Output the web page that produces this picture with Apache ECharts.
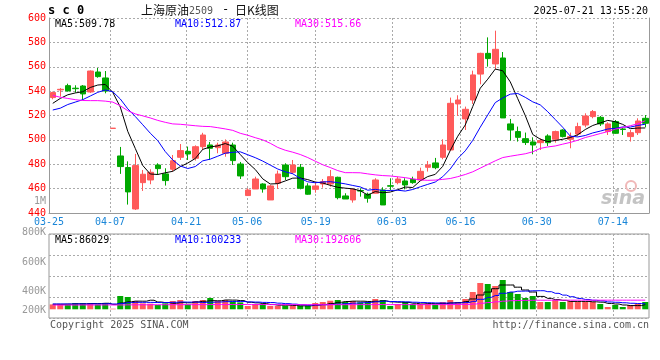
<!DOCTYPE html>
<html><head><meta charset="utf-8">
<script src="https://cdn.jsdelivr.net/npm/echarts@6/dist/echarts.min.js"></script>
<style>html,body{margin:0;padding:0;background:#fff}#c{width:660px;height:360px}</style>
</head><body><div id="c"></div>
<script>
const dates=["03-25","03-26","03-27","03-28","03-31","04-01","04-02","04-03","04-07","04-08","04-09","04-10","04-11","04-14","04-15","04-16","04-17","04-18","04-21","04-22","04-23","04-24","04-25","04-28","04-29","04-30","05-06","05-07","05-08","05-09","05-12","05-13","05-14","05-15","05-16","05-19","05-20","05-21","05-22","05-23","05-26","05-27","05-28","05-29","05-30","06-03","06-04","06-05","06-06","06-09","06-10","06-11","06-12","06-13","06-16","06-17","06-18","06-19","06-20","06-23","06-24","06-25","06-26","06-27","06-30","07-01","07-02","07-03","07-04","07-07","07-08","07-09","07-10","07-11","07-14","07-15","07-16","07-17","07-18","07-21"];
const opens=[534.7,541,544.5,542.4,544.2,539.3,555.7,550.8,509.4,486.8,477.3,443.3,464.9,467.1,479.4,472.1,475.9,485.7,490.6,484.9,494.4,495.8,493.6,489,495.8,480.2,454.3,459.7,463.8,450.7,464.4,479.4,473.4,477.5,462.2,459.4,463.8,463.8,469.3,454,450.7,458.5,455.4,456.2,458.9,462.4,464.9,466.3,467.6,467.1,477.5,481.1,485.7,491.7,529.5,517.2,532.7,554,571,562.3,567.2,513.1,506.8,501,498.3,497.7,503.2,500.5,508.1,500.5,504.8,512.2,519.1,518.5,506.8,515,509,502.7,505.9,517.7];
const closes=[538.8,541.5,540.2,542,537.7,556.5,551.9,540.1,509.6,478.1,457.3,478.9,471.8,473.4,476.4,466.6,482.9,491.2,488.4,494.4,504,493.1,495.8,498.3,483,470.4,458.9,467.9,459.7,462.2,472,469.8,479.4,460.3,455.4,462.2,465.7,469.8,452.6,451.5,459.4,458,452.1,467.1,446.6,462,467.9,463,464.9,474.2,479.4,477.2,495.8,530,532.7,525.1,553.3,571,566.7,574.3,518,508.1,502.1,497.8,495.8,499.4,497.7,506.8,502.7,502.7,510.9,519.6,523.2,513.1,513.1,505.4,508.5,505.9,515.5,513.6];
const lows=[533.3,535.5,539.6,538.8,532.8,538.5,551,538.2,509.4,472.1,446.9,442.5,458.1,463.6,471.2,462.5,474,483.5,483.5,483,491.7,483.5,489,486.2,479.4,467.9,454.3,459.7,456.7,450.7,459.7,467.1,472,459.4,455,456.7,460.8,461.6,451.2,451.5,448.5,453.4,448.5,456,446.6,458.9,463.5,459.4,464,466.3,474,475.9,484.1,491.1,519.6,508.1,529.5,545.6,560.1,557.9,518,499.4,498.6,495.8,488.2,491.7,495,497.7,502,493.1,503,510.3,517.7,511.4,504,505,504,498.6,504,510.3];
const highs=[539.6,542.5,546.1,544.8,545,557,559,556.5,509.6,494.2,482.4,488.5,475.3,475.9,480.8,476.7,487.6,496.6,494.5,495.5,505.8,498.3,497.7,500.4,497.7,481.9,460.3,469.8,464.4,463,474.8,480.8,483.5,480.2,464.4,465.7,467.9,475.3,469.8,456.2,460.3,460.3,456.7,468.5,461.1,468.5,469.8,468.5,469.8,477.2,482.7,485.2,500.5,534.7,536.6,527.3,556.8,571.5,584.1,589.6,572.1,517.2,510.9,506,502.1,501.3,504.6,507.6,508.7,506,514.1,521.8,524.5,519.6,514.4,516.3,510.3,508.1,517.7,520.4];
const ma5=[530,534,537,538.5,539.5,543,545,545.5,539,527,507,493,479,472,471.6,473,474.2,478,481,484.7,492.2,494.2,495.1,497,494.8,488,481.3,475.7,468,463.8,464.1,466.3,468.6,468.7,467.4,465.4,464.6,462.7,461.1,460.4,459.8,458.3,454.7,457.6,456.6,457.2,459.1,461.3,460.9,466.4,469.9,471.7,478.3,491.3,503,512.2,527.4,542.4,549.8,558.1,556.7,547.6,533.8,520,504.4,500.6,498.6,499.5,500.5,501.9,504.2,508.5,511.8,513.9,516,514.9,512.7,509.2,509.7,509.78];
const ma10=[524.5,526,529,531,533,536,539,541,539.5,533.6,525.5,519.2,512.4,505.5,499.4,490.4,483.5,478.6,476.5,478.1,482.8,484.2,486.6,489.1,489.8,490.2,487.8,485.4,482.6,479.3,476.1,473.8,472.2,468.4,465.6,464.8,465.5,465.7,464.9,463.9,462.6,461.4,458.7,459.4,458.5,458.5,458.7,458,459.3,461.5,463.5,465.4,469.8,476.1,484.7,491,499.6,510.4,520.5,530.6,534.4,537.5,538.1,534.9,531.2,528.7,523.1,516.7,510.3,503.1,502.4,503.6,505.7,507.2,508.9,509.5,510.6,510.5,511.8,512.87];
const ma30=[536.5,535,534,533,532.3,532.2,532.2,531.8,531,528,524,521.3,519.7,518,516,514.4,513.1,512.8,512.2,511.6,511.1,510.9,510,509,507.8,505.4,503.8,501.8,500,497.2,493.8,491.5,489.9,488,485.5,482.5,479.6,477.3,474.8,473.1,473.1,473,472.1,471.3,470.7,470.4,469.7,469,468,467.2,466.8,467,467.6,468.3,469.8,471.6,473.8,476.8,479.8,482.8,485.5,486.6,487.6,488.6,490.2,493,494.2,495,496.5,497.9,499.7,501.9,503.5,505.2,506.8,508.8,510.2,511.6,513.2,515.66];
const volumes=[90000,90000,90000,116000,116000,116000,90000,116000,11000,245000,226000,153000,109000,103000,79000,109000,153000,171000,90000,153000,171000,208000,153000,171000,140000,127000,61000,98000,98000,61000,61000,66000,66000,66000,66000,116000,134000,158000,171000,134000,153000,127000,134000,190000,171000,61000,98000,134000,98000,98000,98000,85000,134000,171000,134000,190000,318000,484000,466000,429000,539000,318000,282000,208000,245000,134000,134000,171000,134000,153000,134000,134000,134000,98000,42000,79000,42000,79000,98000,134000];
const volMa5=[92000,92000,95000,100000,100000,106000,106000,111000,90000,116000,138000,150000,149000,167000,134000,123000,111000,123000,120000,135000,148000,159000,157000,171000,169000,160000,130000,119000,105000,89000,76000,77000,70000,64000,65000,76000,90000,108000,129000,143000,150000,149000,144000,148000,155000,137000,131000,128000,112000,98000,105000,103000,103000,117000,124000,143000,190000,263000,317000,379000,447000,447000,407000,355000,318000,237000,201000,178000,164000,145000,145000,145000,138000,131000,108000,97000,79000,68000,68000,86029];
const volMa10=[98000,98000,98000,99000,99000,100000,100000,102000,97000,108000,122000,128000,128000,127000,124000,124000,128000,134000,132000,132000,125000,130000,134000,141000,144000,145000,136000,133000,127000,124000,113000,104000,95000,84000,77000,82000,83000,90000,97000,104000,113000,120000,126000,138000,149000,143000,140000,136000,130000,126000,121000,117000,115000,115000,118000,124000,146000,184000,220000,254000,295000,318000,333000,335000,341000,342000,324000,294000,261000,231000,200000,181000,166000,155000,135000,129000,120000,111000,106000,100233];
const volMa30=[78000,78000,79000,79000,80000,80000,80000,81000,79000,80000,82000,83000,83000,84000,84000,84000,85000,85000,85000,86000,86000,87000,87000,88000,88000,88000,87000,87000,87000,86000,86000,85000,85000,84000,84000,84000,85000,85000,85000,85000,86000,86000,86000,87000,87000,86000,86000,86000,86000,86000,86000,86000,86000,87000,88000,90000,98000,112000,125000,138000,150000,158000,162000,165000,166000,167000,167000,168000,168000,168000,168000,168000,168000,168000,168000,168000,168000,168000,168000,168000];
const priceLegend=["MA5:509.78","MA10:512.87","MA30:515.66"];
const volLegend=["MA5:86029","MA10:100233","MA30:192606"];
const volTickLabels=["800K","600K","400K","200K"];
const labelIdx=[0,8,18,26,35,45,54,64,74];

const chart=echarts.init(document.getElementById('c'),null,{renderer:'canvas'});
const MONO="'DejaVu Sans Mono', 'Liberation Mono', monospace";
const CJK="'Noto Sans CJK SC', sans-serif";
const UP='#ff5a5a', DOWN='#00a800';
const isLabel=i=>labelIdx.indexOf(i)>=0;
const kData=dates.map((d,i)=>[opens[i],closes[i],lows[i],highs[i]]);
const volData=volumes.map((v,i)=>({value:v,itemStyle:{color:closes[i]>=opens[i]?UP:DOWN}}));
const dotted={color:'#aaa',type:[2,2],width:1};
const VINT=386400, VMIN=-160100, VMAX=VMIN+4*VINT;
const legendColors=['#000','#0000ff','#ff00ff'];
const legendX=[55,175,295];
const gfx=[];
const txt=(text,x,y,fill,font,align)=>gfx.push({type:'text',x:x,y:y,silent:true,z:100,style:{text:text,fill:fill,font:font,textAlign:align||'left',textVerticalAlign:'middle'}});
txt('s c 0',48,11,'#000','bold 12px '+MONO);
txt('上海原油',141,10,'#111','12px '+CJK);
txt('2509',189,11,'#555','10px '+MONO);
txt('-',222,10,'#111','12px '+MONO);
txt('日K线图',235,10,'#111','12px '+CJK);
txt('2025-07-21 13:55:20',648,11,'#000','10px '+MONO,'right');
priceLegend.forEach((t,k)=>txt(t,legendX[k],24,legendColors[k],'10px '+MONO));
volLegend.forEach((t,k)=>txt(t,legendX[k],240,legendColors[k],'10px '+MONO));
const volTickY=[232,262,291,310];
volTickLabels.forEach((t,k)=>txt(t,46,volTickY[k],'#999','10px '+MONO,'right'));
txt('1M',46,201,'#999','10px '+MONO,'right');
txt('Copyright 2025 SINA.COM',50,325,'#555','10px '+MONO);
txt('http://finance.sina.com.cn',649,325,'#555','10px '+MONO,'right');
txt('sina',601,199,'#c4c4c4','italic bold 19px '+"'DejaVu Sans', sans-serif");
gfx.push({type:'circle',shape:{cx:631,cy:186,r:5},style:{fill:'none',stroke:'#f0b8b8',lineWidth:2},silent:true,z:100});

// label/grid-line axes: spacing of the date ticks differs slightly from the candle spacing
const tickGridW=602;
const option={
  animation:false,
  backgroundColor:'#fff',
  grid:[
    {left:49,right:11,top:18,height:195},
    {left:49,right:11,top:234,height:84,show:true,borderColor:'#999',borderWidth:1},
    {left:49,width:tickGridW,top:18,height:195},
    {left:49,width:tickGridW,top:234,height:84}
  ],
  xAxis:[
    {type:'category',gridIndex:0,data:dates,boundaryGap:true,axisLine:{show:true,lineStyle:{color:'#999'}},axisTick:{show:false},axisLabel:{show:false},splitLine:{show:false}},
    {type:'category',gridIndex:1,data:dates,boundaryGap:true,axisLine:{show:false},axisTick:{show:false},axisLabel:{show:false},splitLine:{show:false}},
    {type:'category',gridIndex:2,data:dates,boundaryGap:false,axisLine:{show:false},axisTick:{show:false},
     axisLabel:{interval:(i)=>isLabel(i),color:'#1a86d8',fontFamily:MONO,fontSize:10,margin:4},
     splitLine:{show:true,interval:(i)=>isLabel(i)&&i>0,lineStyle:dotted}},
    {type:'category',gridIndex:3,data:dates,boundaryGap:false,axisLine:{show:false},axisTick:{show:false},axisLabel:{show:false},
     splitLine:{show:true,interval:(i)=>isLabel(i)&&i>0,lineStyle:dotted}}
  ],
  yAxis:[
    {type:'value',gridIndex:0,min:440,max:600,interval:20,axisLine:{show:true,lineStyle:{color:'#999'}},axisTick:{show:false},
     axisLabel:{color:'#ff0000',fontFamily:MONO,fontSize:10,margin:3},splitLine:{show:true,lineStyle:dotted}},
    {type:'value',gridIndex:1,min:VMIN,max:VMAX,interval:VINT,axisLine:{show:false},axisTick:{show:false},axisLabel:{show:false},
     splitLine:{show:true,lineStyle:dotted}},
    {type:'value',gridIndex:0,position:'right',min:440,max:600,interval:20,axisLine:{show:true,lineStyle:{color:'#999'}},axisTick:{show:false},axisLabel:{show:false},splitLine:{show:false}},
    {type:'value',gridIndex:2,min:0,max:1,axisLine:{show:false},axisTick:{show:false},axisLabel:{show:false},splitLine:{show:false}},
    {type:'value',gridIndex:3,min:0,max:1,axisLine:{show:false},axisTick:{show:false},axisLabel:{show:false},splitLine:{show:false}}
  ],
  series:[
    {type:'candlestick',xAxisIndex:0,yAxisIndex:0,data:kData,barWidth:6,
     itemStyle:{color:UP,color0:DOWN,borderColor:UP,borderColor0:DOWN,borderWidth:1}},
    {type:'line',xAxisIndex:0,yAxisIndex:0,data:ma5,showSymbol:false,symbol:'none',lineStyle:{color:'#000',width:1},z:5},
    {type:'line',xAxisIndex:0,yAxisIndex:0,data:ma10,showSymbol:false,symbol:'none',lineStyle:{color:'#0000ff',width:1},z:5},
    {type:'line',xAxisIndex:0,yAxisIndex:0,data:ma30,showSymbol:false,symbol:'none',lineStyle:{color:'#ff00ff',width:1},z:5},
    {type:'bar',xAxisIndex:1,yAxisIndex:1,data:volData,barWidth:6},
    {type:'line',xAxisIndex:1,yAxisIndex:1,data:volMa5,step:'middle',showSymbol:false,symbol:'none',lineStyle:{color:'#000',width:1},z:5},
    {type:'line',xAxisIndex:1,yAxisIndex:1,data:volMa10,step:'middle',showSymbol:false,symbol:'none',lineStyle:{color:'#0000ff',width:1},z:5},
    {type:'line',xAxisIndex:1,yAxisIndex:1,data:volMa30,step:'middle',showSymbol:false,symbol:'none',lineStyle:{color:'#ff00ff',width:1},z:5}
  ],
  graphic:gfx
};
chart.setOption(option);
</script></body></html>
